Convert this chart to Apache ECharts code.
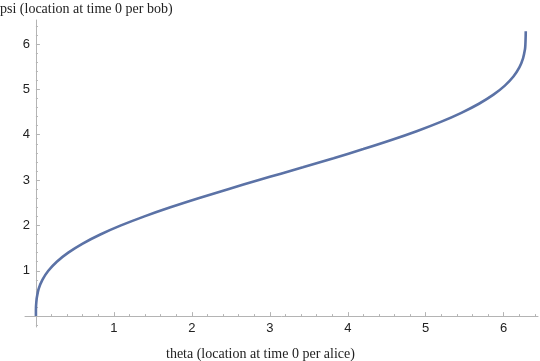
<!DOCTYPE html>
<html>
<head>
<meta charset="utf-8">
<script src="https://cdn.jsdelivr.net/npm/echarts@6/dist/echarts.min.js"></script>
<style>html,body{margin:0;padding:0;background:#fff}#c{width:540px;height:361px}</style>
</head>
<body>
<div id="c"></div>
<script>
// theta (x) values
var thetaVals = [0, 0.000, 0.001, 0.005, 0.011, 0.035, 0.083, 0.159, 0.268, 0.415, 0.600, 0.826, 1.091, 1.392, 1.725, 2.085, 2.465, 2.859, 3.142, 3.424, 3.818, 4.199, 4.559, 4.892, 5.193, 5.457, 5.683, 5.869, 6.015, 6.125, 6.201, 6.248, 6.273, 6.278, 6.282, 6.283];
// psi (y) values
var psiVals   = [0, 0.1, 0.2, 0.3, 0.4, 0.6, 0.8, 1.0, 1.2, 1.4, 1.6, 1.8, 2.0, 2.2, 2.4, 2.6, 2.8, 3.0, 3.142, 3.283, 3.483, 3.683, 3.883, 4.083, 4.283, 4.483, 4.683, 4.883, 5.083, 5.283, 5.483, 5.683, 5.883, 5.983, 6.183, 6.283];
var xMajorTicks = [0, 1, 2, 3, 4, 5, 6];
var xLabels = [1, 2, 3, 4, 5, 6];
var yMajorTicks = [0, 1, 2, 3, 4, 5, 6];
var yLabels = [1, 2, 3, 4, 5, 6];
var xTitle = 'theta (location at time 0 per alice)';
var yTitle = 'psi (location at time 0 per bob)';

function minorList(lo, hi, step) {
  var out = [];
  for (var i = Math.round(lo / step); i * step <= hi + 1e-9; i++) {
    var v = +(i * step).toFixed(2);
    if (Math.abs(v - Math.round(v)) > 1e-6) out.push(v);
  }
  return out;
}
var xMinor = minorList(0, 6.4, 0.2);
var yMinor = minorList(-0.2, 6.4, 0.2);

var data = thetaVals.map(function (t, i) { return [t, psiVals[i]]; });

var axisCol = '#b4b4b4';
var labelStyle = { color: '#222', fontSize: 13, fontFamily: 'Liberation Sans, Arial, sans-serif' };
var titleStyle = { fontFamily: 'Liberation Serif, serif', fontSize: 14, fontWeight: 'normal', color: '#222' };
var xRange = { min: -0.14, max: 6.44 };
var yRange = { min: -0.24, max: 6.53 };

var chart = echarts.init(document.getElementById('c'));
chart.setOption({
  animation: false,
  backgroundColor: '#fff',
  title: [
    { text: yTitle, left: 0, top: 2, padding: 0, textStyle: titleStyle },
    { text: xTitle, left: 166, top: 347, padding: 0, textStyle: titleStyle }
  ],
  grid: { left: 25, right: 2, top: 20, bottom: 34, containLabel: false },
  xAxis: [
    {
      type: 'value', min: xRange.min, max: xRange.max, position: 'bottom',
      axisLine: { show: true, onZero: true, onZeroAxisIndex: 0, lineStyle: { color: axisCol, width: 1 } },
      axisTick: { show: true, inside: true, length: 4, customValues: xMajorTicks, lineStyle: { color: axisCol } },
      axisLabel: { show: true, customValues: xLabels, margin: -5, ...labelStyle },
      splitLine: { show: false }
    },
    {
      type: 'value', min: xRange.min, max: xRange.max, position: 'bottom',
      axisLine: { show: false, onZero: true, onZeroAxisIndex: 0 },
      axisTick: { show: true, inside: true, length: 2, customValues: xMinor, lineStyle: { color: axisCol } },
      axisLabel: { show: false },
      splitLine: { show: false }
    }
  ],
  yAxis: [
    {
      type: 'value', min: yRange.min, max: yRange.max, position: 'left',
      axisLine: { show: true, onZero: true, onZeroAxisIndex: 0, lineStyle: { color: axisCol, width: 1 } },
      axisTick: { show: true, inside: true, length: 4, customValues: yMajorTicks, lineStyle: { color: axisCol } },
      axisLabel: { show: true, customValues: yLabels, margin: -5, ...labelStyle },
      splitLine: { show: false }
    },
    {
      type: 'value', min: yRange.min, max: yRange.max, position: 'left',
      axisLine: { show: false, onZero: true, onZeroAxisIndex: 0 },
      axisTick: { show: true, inside: true, length: 2, customValues: yMinor, lineStyle: { color: axisCol } },
      axisLabel: { show: false },
      splitLine: { show: false }
    }
  ],
  series: [{
    type: 'line', xAxisIndex: 0, yAxisIndex: 0, data: data,
    showSymbol: false, smooth: 0.3,
    lineStyle: { color: '#5b72a6', width: 2.6 },
    clip: false
  }]
});
</script>
</body>
</html>
